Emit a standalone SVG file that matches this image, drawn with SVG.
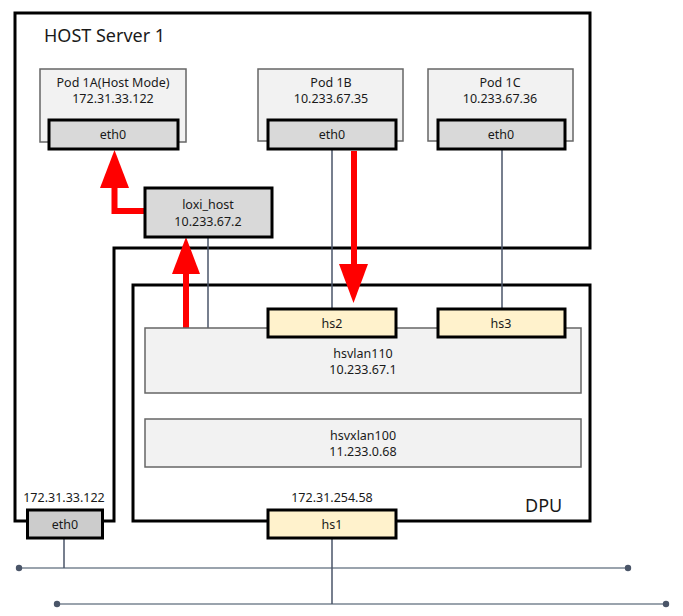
<svg xmlns="http://www.w3.org/2000/svg" width="683" height="616" viewBox="0 0 683 616">
<defs>
<style>
text{font-family:"Noto Sans","Open Sans","DejaVu Sans",sans-serif;fill:#1a1a1a;text-anchor:middle}
.lbl{font-size:12.5px}
.big{font-size:18px;text-anchor:start}
.pod{fill:#f2f2f2;stroke:#666;stroke-width:1.5}
.eth{fill:#d9d9d9;stroke:#000;stroke-width:3}
.hs{fill:#fff2cc;stroke:#000;stroke-width:3}
.frame{fill:none;stroke:#000;stroke-width:3}
.link{stroke:#4a5568;stroke-width:1.5;fill:none}
.net{stroke:#9aa3ad;stroke-width:2;fill:none}
.dot{fill:#4a5568}
.red{stroke:#ff0000;stroke-width:6;fill:none}
.redh{fill:#ff0000}
.br{fill:#f2f2f2;stroke:#666;stroke-width:1.5}
</style>
</defs>
<rect width="683" height="616" fill="#fff"/>

<g id="host-server">
<path class="frame" d="M114,248 H590 V13 H15 V521 H114 Z"/>
<text class="big" x="44" y="42">HOST Server 1</text>
</g>

<g id="dpu">
<rect class="frame" x="133" y="285" width="457" height="236"/>
<text class="big" x="525" y="512">DPU</text>
</g>

<g id="connectors">
<line class="link" x1="332" y1="150" x2="332" y2="309"/>
<line class="link" x1="502" y1="150" x2="502" y2="309"/>
<line class="link" x1="208" y1="237" x2="208" y2="329"/>
<line class="net" x1="19" y1="568" x2="628" y2="568"/>
<line class="net" x1="57" y1="604" x2="666" y2="604"/>
<line class="link" x1="64" y1="539" x2="64" y2="568"/>
<line class="link" x1="332" y1="539" x2="332" y2="604"/>
<circle class="dot" cx="19" cy="568" r="3.2"/>
<circle class="dot" cx="628" cy="568" r="3.2"/>
<circle class="dot" cx="57" cy="604" r="3.2"/>
<circle class="dot" cx="666" cy="604" r="3.2"/>
<polyline class="red" points="144,211 114.5,211 114.5,186"/>
<polygon class="redh" points="100,188 129,188 114.5,150"/>
<line class="red" x1="186" y1="329" x2="186" y2="272"/>
<polygon class="redh" points="172,274 200,274 186,237"/>
<line class="red" x1="354" y1="151" x2="354" y2="266"/>
<polygon class="redh" points="339,264 368,264 353.5,303"/>
</g>

<g id="pod1a">
<rect class="pod" x="40" y="69" width="146" height="73"/>
<text class="lbl" x="113" y="87">Pod 1A(Host Mode)</text>
<text class="lbl" x="113" y="103">172.31.33.122</text>
<rect class="eth" x="49" y="120" width="129" height="29"/>
<text class="lbl" x="113" y="139">eth0</text>
</g>

<g id="pod1b">
<rect class="pod" x="258" y="69" width="145" height="72"/>
<text class="lbl" x="331" y="87">Pod 1B</text>
<text class="lbl" x="331" y="103">10.233.67.35</text>
<rect class="eth" x="268" y="120" width="128" height="29"/>
<text class="lbl" x="332" y="139">eth0</text>
</g>

<g id="pod1c">
<rect class="pod" x="428" y="69" width="145" height="72"/>
<text class="lbl" x="500" y="87">Pod 1C</text>
<text class="lbl" x="500" y="103">10.233.67.36</text>
<rect class="eth" x="438" y="120" width="127" height="29"/>
<text class="lbl" x="501" y="139">eth0</text>
</g>

<g id="loxi-host">
<rect class="eth" x="145" y="188" width="127" height="49"/>
<text class="lbl" x="208" y="209">loxi_host</text>
<text class="lbl" x="208" y="226">10.233.67.2</text>
</g>

<g id="hsvlan110">
<rect class="br" x="145" y="328" width="436" height="65"/>
<text class="lbl" x="363" y="358">hsvlan110</text>
<text class="lbl" x="363" y="374">10.233.67.1</text>
</g>

<g id="hs2">
<rect class="hs" x="268" y="309" width="128" height="28"/>
<text class="lbl" x="332" y="328">hs2</text>
</g>

<g id="hs3">
<rect class="hs" x="438" y="309" width="127" height="28"/>
<text class="lbl" x="501" y="328">hs3</text>
</g>

<g id="hsvxlan100">
<rect class="br" x="145" y="419" width="436" height="48"/>
<text class="lbl" x="363" y="440">hsvxlan100</text>
<text class="lbl" x="363" y="456">11.233.0.68</text>
</g>

<g id="host-eth0">
<text class="lbl" x="64" y="502">172.31.33.122</text>
<rect x="27.5" y="510" width="75" height="28" fill="#cccccc" stroke="#000" stroke-width="3"/>
<text class="lbl" x="65" y="529">eth0</text>
</g>

<g id="hs1">
<text class="lbl" x="332" y="502">172.31.254.58</text>
<rect class="hs" x="268" y="510" width="128" height="28"/>
<text class="lbl" x="332" y="529">hs1</text>
</g>
</svg>
